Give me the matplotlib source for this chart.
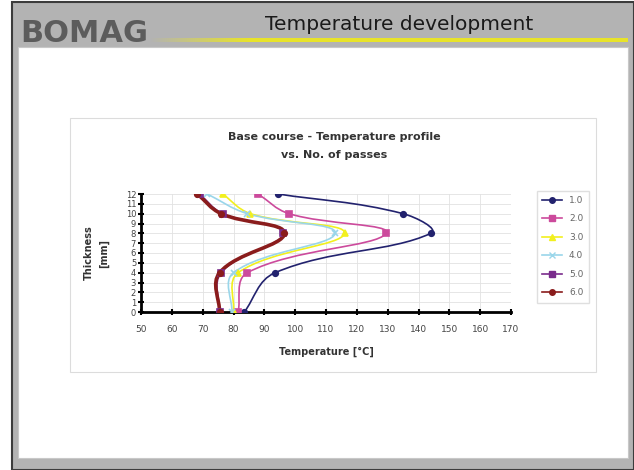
import numpy as np
import matplotlib
matplotlib.use('Agg')
import matplotlib.pyplot as plt
from matplotlib.path import Path
from matplotlib.patches import PathPatch, Rectangle

# data
thickness = [0, 4, 8, 10, 12]
passes = ['1.0', '2.0', '3.0', '4.0', '5.0', '6.0']
temp_1 = [83.5, 93.5, 144, 135, 94.5]
temp_2 = [81.5, 84.5, 129.5, 98, 88]
temp_3 = [80, 81.5, 116, 85.5, 76.5]
temp_4 = [79.5, 80, 113, 84.5, 71.5]
temp_5 = [75.5, 76, 96, 76.5, 69]
temp_6 = [75.5, 75.5, 96.5, 76, 68.3]
x_ticks = list(range(50, 171, 10))
y_ticks = list(range(0, 13))

series = [temp_1, temp_2, temp_3, temp_4, temp_5, temp_6]
colors = ['#22226e', '#cc4a9c', '#f2f01e', '#9ad6ea', '#7a2c8c', '#8a1c1c']
markers = ['o', 's', '^', 'x', 's', 'o']
widths = [1.2, 1.2, 1.2, 1.2, 1.2, 2.6]

W, H = 634, 470
fig = plt.figure(figsize=(W / 100, H / 100), dpi=100)
fig.patch.set_facecolor('white')


def box(x0, y0, x1, y1, **kw):
    # rectangle given in pixel coords from the top-left corner
    r = Rectangle((x0 / W, 1 - y1 / H), (x1 - x0) / W, (y1 - y0) / H,
                  transform=fig.transFigure, zorder=-5, **kw)
    fig.add_artist(r)


# slide frame
box(12, 2, 634, 470, facecolor='#b3b3b3', edgecolor='#3c3c3c', lw=1.5)
box(18, 47, 628, 458, facecolor='white', edgecolor='#c8c8c8', lw=0.8)
# yellow line under the header, fading in from the left
grad = np.linspace(0, 1, 100)
for i in range(100):
    c = np.array([0.70, 0.70, 0.70]) * (1 - grad[i]) + np.array([0.91, 0.89, 0.16]) * grad[i]
    box(150 + i, 38, 151 + i, 42, facecolor=c, edgecolor='none')
box(250, 38, 628, 42, facecolor='#e8e329', edgecolor='none')
fig.text(20 / W, 1 - 33 / H, 'BOMAG', fontsize=22, fontweight='bold', color='#5c5c5c',
         va='center', ha='left')
fig.text(399 / W, 1 - 24 / H, 'Temperature development', fontsize=14.5, color='#1a1a1a',
         va='center', ha='center')

# chart area
box(70, 118, 596, 372, facecolor='white', edgecolor='#dcdcdc', lw=0.8)

ax = fig.add_axes([141 / W, 1 - 312 / H, (511 - 141) / W, (312 - 194) / H])
ax.set_xlim(50, 170)
ax.set_ylim(0, 12)
ax.set_xticks(x_ticks)
ax.set_yticks(y_ticks)
ax.grid(True, color='#e2e2e2', lw=0.6)
ax.set_axisbelow(True)
for s in ['top', 'right']:
    ax.spines[s].set_visible(False)
ax.spines['left'].set_linewidth(2)
ax.spines['bottom'].set_linewidth(2)
ax.tick_params(axis='both', direction='inout', length=5, width=1.5, labelsize=6.5,
               labelcolor='#444444')
ax.tick_params(axis='x', pad=7)
ax.tick_params(axis='y', labelsize=6, pad=1)

# pixel size of one unit, used to weight the curve tangents
sx, sy = 370 / 120, 118 / 12


def smooth_path(xs, ys, s=0.4):
    # smooth line through the data points, as Bezier segments
    pts = np.column_stack([xs, ys]).astype(float)
    scale = np.array([sx, sy])
    n = len(pts)
    d = [np.hypot(*((pts[i + 1] - pts[i]) * scale)) for i in range(n - 1)]
    tang = []
    for i in range(n):
        if i == 0 or i == n - 1:
            tang.append(np.zeros(2))
        else:
            tang.append(pts[i + 1] - pts[i - 1])
    verts = [pts[0]]
    codes = [Path.MOVETO]
    for i in range(n - 1):
        p1, p2 = pts[i], pts[i + 1]
        if i > 0:
            c1 = p1 + tang[i] * s * d[i] / (d[i - 1] + d[i])
        else:
            c1 = p1 + (p2 - p1) / 3
        if i + 1 < n - 1:
            c2 = p2 - tang[i + 1] * s * d[i] / (d[i] + d[i + 1])
        else:
            c2 = p2 - (p2 - p1) / 3
        verts += [c1, c2, p2]
        codes += [Path.CURVE4] * 3
    return Path(verts, codes)


for temps, c, m, lw, lab in zip(series, colors, markers, widths, passes):
    ax.add_patch(PathPatch(smooth_path(temps, thickness), facecolor='none',
                           edgecolor=c, lw=lw, zorder=3))
    ax.plot(temps, thickness, ls='none', marker=m, color=c, ms=4, mew=1.2, zorder=4)
    ax.plot([], [], color=c, marker=m, ms=4, lw=1.2, label=lab)

fig.text(334 / W, 1 - 146 / H, 'Base course - Temperature profile\nvs. No. of passes',
         fontsize=8, fontweight='bold', color='#333333', ha='center', va='center',
         linespacing=1.9)
ax.set_xlabel('Temperature [°C]', fontsize=7, fontweight='bold', color='#333333', labelpad=9)
ax.set_ylabel('Thickness\n[mm]', fontsize=7, fontweight='bold', color='#333333', labelpad=12,
              linespacing=1.6)

leg = ax.legend(loc='upper left', bbox_to_anchor=(532 / W, 1 - 186 / H),
                bbox_transform=fig.transFigure, fontsize=6.5, frameon=True,
                fancybox=False, edgecolor='#d8d8d8', handlelength=2.2,
                labelspacing=1.05, borderpad=0.6)
for t in leg.get_texts():
    t.set_color('#666666')

fig.savefig('out.png', dpi=100)
